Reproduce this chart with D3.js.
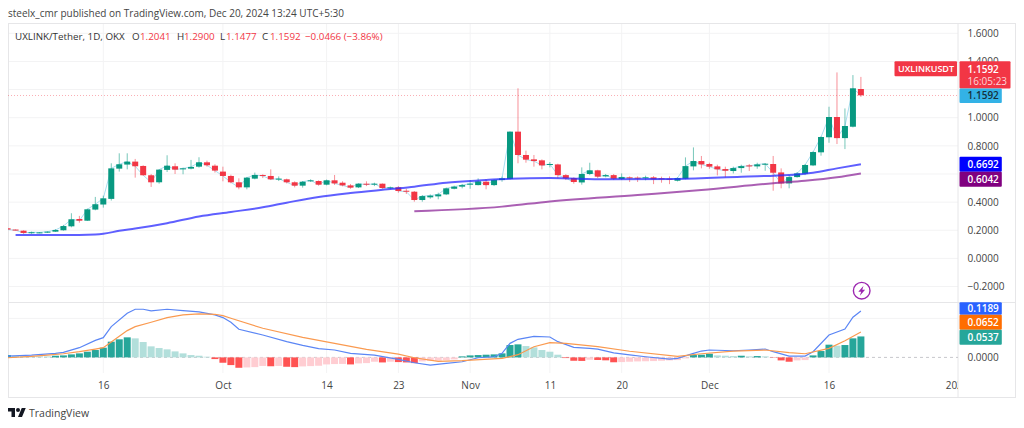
<!DOCTYPE html>
<html>
<head>
<meta charset="utf-8">
<script src="https://cdn.jsdelivr.net/npm/d3@7"></script>
<style>
  html, body { margin: 0; padding: 0; background: #fff; }
  svg { display: block; }
  text { font-family: "Open Sans", sans-serif; }
</style>
</head>
<body>
<div id="chart"></div>
<script>
// Daily candles, first candle is Sep 4 2024 (day 0)
const opens = [.214,.205,.197,.181,.181,.183,.190,.200,.228,.280,.268,.347,.383,.423,.638,.667,.688,.657,.591,.541,.629,.655,.633,.638,.652,.683,.659,.617,.586,.541,.505,.567,.593,.586,.562,.562,.541,.517,.548,.550,.524,.555,.538,.519,.505,.531,.526,.531,.500,.505,.481,.474,.415,.434,.441,.455,.495,.510,.526,.521,.545,.521,.557,.564,.901,.735,.704,.697,.664,.668,.592,.571,.540,.600,.626,.583,.592,.564,.576,.574,.571,.576,.569,.566,.552,.566,.654,.692,.671,.654,.635,.621,.642,.661,.654,.668,.671,.611,.533,.578,.602,.661,.754,.861,1.005,.855,.936,1.2041];
const highs = [.216,.206,.200,.190,.187,.192,.208,.238,.321,.302,.354,.437,.446,.676,.747,.747,.707,.662,.600,.633,.733,.676,.645,.700,.719,.695,.669,.652,.595,.569,.579,.610,.598,.633,.583,.567,.548,.550,.562,.555,.560,.593,.548,.529,.533,.548,.538,.533,.510,.514,.495,.479,.450,.455,.467,.503,.517,.529,.557,.569,.562,.562,.581,.901,1.209,.766,.735,.704,.685,.673,.600,.576,.647,.680,.630,.600,.600,.604,.583,.583,.588,.585,.581,.583,.576,.718,.789,.728,.680,.666,.652,.652,.666,.671,.680,.678,.728,.640,.592,.614,.671,.761,.867,1.078,1.322,1.066,1.303,1.29];
const lows = [.198,.198,.175,.175,.179,.181,.188,.197,.221,.254,.266,.342,.361,.411,.617,.633,.574,.588,.508,.531,.614,.600,.598,.633,.645,.652,.610,.548,.534,.491,.491,.562,.571,.557,.550,.533,.505,.503,.543,.517,.519,.522,.512,.495,.500,.514,.514,.495,.491,.467,.458,.403,.403,.424,.420,.450,.491,.498,.495,.519,.491,.514,.545,.560,.676,.680,.652,.633,.647,.569,.557,.531,.524,.592,.571,.576,.557,.557,.543,.543,.555,.528,.538,.528,.547,.562,.626,.640,.637,.590,.576,.604,.609,.621,.637,.623,.481,.498,.498,.574,.592,.656,.730,.822,.813,.777,.931,1.1477];
const closes = [.205,.200,.181,.186,.185,.190,.202,.230,.278,.268,.349,.385,.427,.640,.669,.688,.655,.591,.541,.631,.659,.631,.640,.650,.683,.662,.624,.586,.541,.505,.574,.593,.586,.562,.567,.541,.517,.545,.555,.524,.555,.533,.519,.503,.531,.524,.531,.500,.505,.479,.474,.415,.443,.446,.455,.498,.510,.521,.531,.548,.521,.557,.569,.901,.735,.702,.692,.661,.671,.592,.569,.543,.600,.626,.581,.592,.566,.578,.571,.569,.576,.562,.564,.562,.571,.656,.692,.668,.652,.633,.623,.642,.656,.656,.668,.673,.609,.533,.578,.604,.664,.756,.863,1.005,.855,.941,1.209,1.1592];

// Moving averages: only the days
const blueDays = [1,9,11,12,14,16,20,24,28,32,35,39,43,48,51,55,60,63,68,75,84,92,98,101,104,107];
const blueValues = [.167,.167,.170,.175,.196,.212,.250,.298,.330,.363,.396,.437,.465,.493,.510,.538,.557,.567,.572,.562,.565,.581,.593,.609,.640,.6692];
const purpleDays = [51,62,68,79,87,96,100,104,107];
const purpleValues = [.335,.368,.405,.451,.486,.534,.552,.577,.6042];

// MACD pane
const histValues = [.006,.0043,.003,.0028,.0026,.0025,.0043,.0051,.0077,.0103,.0146,.0189,.0249,.0403,.0463,.0514,.0488,.0394,.0283,.024,.0206,.0154,.0103,.006,.0043,.0017,-.0043,-.0137,-.0197,-.0266,-.0257,-.0249,-.0219,-.0227,-.0219,-.024,-.0249,-.0231,-.0223,-.0214,-.018,-.0171,-.0167,-.018,-.0154,-.0146,-.0111,-.0129,-.0111,-.012,-.0129,-.0146,-.0103,-.009,-.0086,-.0069,-.0051,.0026,.0051,.006,.0069,.0077,.0103,.0317,.0334,.0291,.0257,.0189,.0146,.0069,-.0017,-.0086,-.009,-.006,-.0066,-.0075,-.0125,-.012,-.0111,-.0103,-.0099,-.0094,-.0086,-.0077,-.0069,-.0026,.006,.0069,.0094,.0051,.0043,.0034,.0043,.0026,.0034,.0026,-.0009,-.0077,-.0111,-.0077,-.0069,.0051,.0163,.0326,.03,.0317,.0488,.0537];
const macdDays = [0,3,6,7,9,11,12,13,15,16,17,18,20,22,24,26,27,28,29,32,35,37,39,41,43,46,49,51,53,55,57,59,61,62,63,64,66,68,69,71,73,74,76,78,80,83,84,86,87,88,91,93,95,96,98,100,101,103,105,106,107];
const macdValues = [.0034,.006,.0103,.0129,.0249,.0437,.0506,.0788,.1131,.1234,.1234,.1191,.1234,.12,.1165,.1088,.102,.09,.072,.0574,.0403,.0308,.0223,.0189,.0103,.006,-.0051,-.0137,-.0197,-.0154,-.0111,-.0009,.0017,.0103,.036,.0463,.054,.0523,.0403,.0257,.0231,.0214,.0114,.0063,.0017,-.0043,-.0026,.0103,.0163,.0189,.0171,.0189,.0214,.0146,.0034,.0034,.0146,.0574,.0728,.1028,.1189];
const signalDays = [0,3,5,7,9,11,12,13,15,16,18,20,22,24,26,27,28,32,37,41,45,49,51,54,57,62,64,66,68,70,74,78,84,87,91,95,98,100,103,105,107];
const signalValues = [-.0009,.0026,.006,.0094,.0146,.0214,.0249,.0394,.0686,.0788,.09,.102,.1088,.1114,.1105,.1071,.1003,.0746,.0515,.036,.0206,.0086,-.0009,-.0103,-.0085,-.0026,.0069,.0274,.0377,.036,.0274,.0157,.0026,.0094,.0163,.0189,.012,.0094,.0231,.0428,.0652];

// Axis labels
const timeTickDays = [12,27,40,49,58,68,77,88,103,119];
const timeTickLabels = ["16","Oct","14","23","Nov","11","20","Dec","16","2025"];
const priceTicks = [1.6,1.4,1.2,1.0,0.8,0.6,0.4,0.2,0,-0.2];
// 1.2 and 0.6 sit behind the value boxes, so they get a grid line but no label
const priceLabelTicks = [1.6,1.4,1.0,0.8,0.4,0.2,0,-0.2];
const macdGridTicks = [0.1];

const legendParts = [
    {x: 15, text: "UXLINK/Tether, 1D, OKX", color: "#333"},
    {x: 132, text: "O", color: "#333"},
    {x: 140, text: "1.2041", color: "#f23645"},
    {x: 177, text: "H", color: "#333"},
    {x: 184, text: "1.2900", color: "#f23645"},
    {x: 220, text: "L", color: "#333"},
    {x: 226, text: "1.1477", color: "#f23645"},
    {x: 262, text: "C", color: "#333"},
    {x: 270, text: "1.1592", color: "#f23645"},
    {x: 305, text: "\u22120.0466 (\u22123.86%)", color: "#f23645"}
];

const width = 1024, height = 428;
const paneLeft = 8, paneRight = 958, frameRight = 1015;
const frameTop = 23, paneSplit = 302.5, paneBottom = 373, frameBottom = 397;
const upColor = "#089981", downColor = "#f23645";
const gridColor = "#f3f3f4", frameColor = "#e6e6e8", axisText = "#444";

var svg = d3.select("#chart")
    .append("svg")
    .attr("width", width)
    .attr("height", height);

// ---------------------------//
//       SCALES               //
// ---------------------------//

var x = d3.scaleLinear().domain([12, 103]).range([103.3, 829]);
var y = d3.scaleLinear().domain([1.6, 0]).range([33.3, 258.4]);
var yMacd = d3.scaleLinear().domain([0, 0.1189]).range([357.4, 311]);

var defs = svg.append("defs");
defs.append("clipPath").attr("id", "clip-main").append("rect")
    .attr("x", paneLeft).attr("y", frameTop)
    .attr("width", paneRight - paneLeft).attr("height", paneSplit - frameTop);
defs.append("clipPath").attr("id", "clip-macd").append("rect")
    .attr("x", paneLeft).attr("y", paneSplit)
    .attr("width", paneRight - paneLeft).attr("height", paneBottom - paneSplit);
defs.append("clipPath").attr("id", "clip-time").append("rect")
    .attr("x", paneLeft).attr("y", paneBottom)
    .attr("width", paneRight - paneLeft).attr("height", frameBottom - paneBottom);

// ---------------------------//
//       GRID                 //
// ---------------------------//

var grid = svg.append("g");

grid.selectAll(".v-grid")
    .data(timeTickDays.slice(0, -1))
    .enter()
    .append("line")
    .attr("x1", function(d) { return x(d); })
    .attr("x2", function(d) { return x(d); })
    .attr("y1", frameTop)
    .attr("y2", paneBottom)
    .attr("stroke", gridColor);

grid.selectAll(".h-grid")
    .data(priceTicks)
    .enter()
    .append("line")
    .attr("x1", paneLeft)
    .attr("x2", paneRight)
    .attr("y1", function(d) { return y(d); })
    .attr("y2", function(d) { return y(d); })
    .attr("stroke", gridColor);

grid.selectAll(".h-grid-macd")
    .data(macdGridTicks)
    .enter()
    .append("line")
    .attr("x1", paneLeft)
    .attr("x2", paneRight)
    .attr("y1", function(d) { return yMacd(d); })
    .attr("y2", function(d) { return yMacd(d); })
    .attr("stroke", gridColor);

// Frame and pane separators
svg.append("rect")
    .attr("x", paneLeft + 0.5).attr("y", frameTop + 0.5)
    .attr("width", frameRight - paneLeft).attr("height", frameBottom - frameTop)
    .attr("fill", "none")
    .attr("stroke", frameColor);
svg.append("line")
    .attr("x1", paneLeft).attr("x2", frameRight)
    .attr("y1", paneSplit).attr("y2", paneSplit)
    .attr("stroke", frameColor);
svg.append("line")
    .attr("x1", paneRight).attr("x2", paneRight)
    .attr("y1", frameTop).attr("y2", frameBottom)
    .attr("stroke", frameColor);

// ---------------------------//
//       PRICE PANE           //
// ---------------------------//

var main = svg.append("g").attr("clip-path", "url(#clip-main)");
var dayIndex = d3.range(closes.length);

// Last price line
main.append("line")
    .attr("x1", paneLeft).attr("x2", paneRight)
    .attr("y1", Math.floor(y(1.1592)) + 0.5).attr("y2", Math.floor(y(1.1592)) + 0.5)
    .attr("stroke", "#f23645")
    .attr("stroke-opacity", 0.4)
    .attr("stroke-dasharray", "1,2");

var closeLine = d3.line()
    .x(function(d) { return x(d); })
    .y(function(d) { return y(closes[d]); });

main.append("path")
    .attr("d", closeLine(dayIndex))
    .attr("fill", "none")
    .attr("stroke", "#a9def0")
    .attr("stroke-width", 1);

main.selectAll(".wick")
    .data(dayIndex)
    .enter()
    .append("line")
    .attr("x1", function(d) { return x(d); })
    .attr("x2", function(d) { return x(d); })
    .attr("y1", function(d) { return y(highs[d]); })
    .attr("y2", function(d) { return y(lows[d]); })
    .attr("stroke", function(d) { return closes[d] >= opens[d] ? upColor : downColor; })
    .attr("stroke-opacity", 0.55);

main.selectAll(".body")
    .data(dayIndex)
    .enter()
    .append("rect")
    .attr("x", function(d) { return x(d) - 3; })
    .attr("width", 6)
    .attr("y", function(d) { return y(Math.max(opens[d], closes[d])); })
    .attr("height", function(d) { return Math.max(1, Math.abs(y(opens[d]) - y(closes[d]))); })
    .attr("fill", function(d) { return closes[d] >= opens[d] ? upColor : downColor; });

function drawAverage(days, values, color) {
    var line = d3.line()
        .curve(d3.curveMonotoneX)
        .x(function(d) { return x(days[d]); })
        .y(function(d) { return y(values[d]); });
    main.append("path")
        .attr("d", line(d3.range(days.length)))
        .attr("fill", "none")
        .attr("stroke", color)
        .attr("stroke-width", 2)
        .attr("stroke-opacity", 0.75);
}
drawAverage(blueDays, blueValues, "#2a2aff");
drawAverage(purpleDays, purpleValues, "#8e2a9a");

// ---------------------------//
//       MACD PANE            //
// ---------------------------//

var macd = svg.append("g").attr("clip-path", "url(#clip-macd)");

// Zero line
macd.append("line")
    .attr("x1", paneLeft).attr("x2", paneRight)
    .attr("y1", yMacd(0)).attr("y2", yMacd(0))
    .attr("stroke", "#c8c8cc")
    .attr("stroke-dasharray", "3,3");

var histColor = function(d) {
    var prev = d > 0 ? histValues[d - 1] : 0;
    if (histValues[d] >= 0) return histValues[d] >= prev ? "#26a69a" : "#b2dfdb";
    return histValues[d] < prev ? "#ff5252" : "#ffcdd2";
};

macd.selectAll(".hist")
    .data(dayIndex)
    .enter()
    .append("rect")
    .attr("x", function(d) { return x(d) - 3.5; })
    .attr("width", 7)
    .attr("y", function(d) { return yMacd(Math.max(0, histValues[d])); })
    .attr("height", function(d) { return Math.abs(yMacd(histValues[d]) - yMacd(0)); })
    .attr("fill", histColor);

function drawMacdLine(days, values, color) {
    var line = d3.line()
        .x(function(d) { return x(days[d]); })
        .y(function(d) { return yMacd(values[d]); });
    macd.append("path")
        .attr("d", line(d3.range(days.length)))
        .attr("fill", "none")
        .attr("stroke", color)
        .attr("stroke-width", 1.2);
}
drawMacdLine(macdDays, macdValues, "#5b86f5");
drawMacdLine(signalDays, signalValues, "#fa9a50");

// Alert icon above the pane
var bolt = svg.append("g").attr("transform", "translate(861.7,290.7)");
bolt.append("circle")
    .attr("r", 8.3)
    .attr("fill", "#fff")
    .attr("stroke", "#9c27b0")
    .attr("stroke-width", 1.4);
bolt.append("path")
    .attr("d", "M1.8,-5 L-3.4,1 L-0.6,1 L-1.8,5 L3.4,-1 L0.6,-1 Z")
    .attr("fill", "#9c27b0");

// ---------------------------//
//       AXES                 //
// ---------------------------//

var timeAxis = svg.append("g")
    .attr("clip-path", "url(#clip-time)")
    .append("g")
    .attr("transform", "translate(0," + paneBottom + ")")
    .call(d3.axisBottom(x)
        .tickValues(timeTickDays)
        .tickSize(0)
        .tickPadding(9)
        .tickFormat(function(d, i) { return timeTickLabels[i]; }));
timeAxis.select(".domain").remove();
timeAxis.selectAll("text").attr("font-size", 10).attr("fill", axisText)
    .attr("font-family", "'Open Sans', sans-serif");

var priceAxis = svg.append("g")
    .attr("transform", "translate(967.5,0)")
    .call(d3.axisRight(y)
        .tickValues(priceLabelTicks)
        .tickSize(0)
        .tickPadding(0)
        .tickFormat(function(d) { return d3.format(".4f")(d).replace("-", "\u2212"); }));
priceAxis.select(".domain").remove();
priceAxis.selectAll("text").attr("font-size", 10).attr("fill", axisText)
    .attr("font-family", "'Open Sans', sans-serif");

var macdAxis = svg.append("g")
    .attr("transform", "translate(967.5,0)")
    .call(d3.axisRight(yMacd)
        .tickValues([0])
        .tickSize(0)
        .tickPadding(0)
        .tickFormat(d3.format(".4f")));
macdAxis.select(".domain").remove();
macdAxis.selectAll("text").attr("font-size", 10).attr("fill", axisText)
    .attr("font-family", "'Open Sans', sans-serif");

// ---------------------------//
//       VALUE LABELS         //
// ---------------------------//

function valueBox(left, top, w, h, fill, label, textFill, textX, fontSize) {
    svg.append("rect")
        .attr("x", left).attr("y", top)
        .attr("width", w).attr("height", h)
        .attr("rx", 1)
        .attr("fill", fill);
    svg.append("text")
        .attr("x", textX === undefined ? left + 8 : textX)
        .attr("y", top + h / 2)
        .attr("dy", "0.35em")
        .attr("font-size", fontSize || 10)
        .attr("font-weight", 600)
        .attr("fill", textFill)
        .text(label);
}

valueBox(894.5, 61.3, 62.5, 15, "#f23645", "UXLINKUSDT", "#fff", 898, 9);

svg.append("rect")
    .attr("x", 959.5).attr("y", 61.3)
    .attr("width", 51).attr("height", 27.2)
    .attr("rx", 1)
    .attr("fill", "#f23645");
svg.append("text")
    .attr("x", 967.5).attr("y", 69)
    .attr("dy", "0.35em")
    .attr("font-size", 10).attr("font-weight", 600)
    .attr("fill", "#fff")
    .text("1.1592");
svg.append("text")
    .attr("x", 967.5).attr("y", 81.5)
    .attr("dy", "0.35em")
    .attr("font-size", 10)
    .attr("fill", "#fcd5d9")
    .text("16:05:23");

valueBox(959.5, 88.5, 42.3, 14.5, "#33b2e6", "1.1592", "#15303c");
valueBox(959.5, 156.7, 42.3, 15, "#0000ff", "0.6692", "#fff");
valueBox(959.5, 171.7, 42.3, 15, "#800080", "0.6042", "#fff");
valueBox(959.5, 302.3, 42.3, 12.4, "#2962ff", "0.1189", "#fff");
valueBox(959.5, 314.7, 42.3, 15, "#ff6d00", "0.0652", "#fff");
valueBox(959.5, 329.7, 42.3, 15, "#26a69a", "0.0537", "#fff");

// ---------------------------//
//       HEADER AND LOGO      //
// ---------------------------//

svg.append("text")
    .attr("x", 8).attr("y", 13)
    .attr("dy", "0.35em")
    .attr("font-size", 10)
    .attr("fill", "#444")
    .text("steelx_cmr published on TradingView.com, Dec 20, 2024 13:24 UTC+5:30");

svg.selectAll(".legend-part")
    .data(legendParts)
    .enter()
    .append("text")
    .attr("x", function(d) { return d.x; })
    .attr("y", 37)
    .attr("dy", "0.35em")
    .attr("font-size", 9.8)
    .attr("fill", function(d) { return d.color; })
    .text(function(d) { return d.text; });

var logo = svg.append("g").attr("transform", "translate(8,406) scale(0.5)");
logo.append("path")
    .attr("d", "M14 22H7V11H0V4h14v18zM28 22h-8l7.5-18h8L28 22z")
    .attr("fill", "#131722");
logo.append("circle")
    .attr("cx", 20).attr("cy", 8).attr("r", 4)
    .attr("fill", "#131722");

svg.append("text")
    .attr("x", 29).attr("y", 413.5)
    .attr("dy", "0.35em")
    .attr("font-size", 10.5)
    .attr("fill", "#444")
    .text("TradingView");
</script>
</body>
</html>
